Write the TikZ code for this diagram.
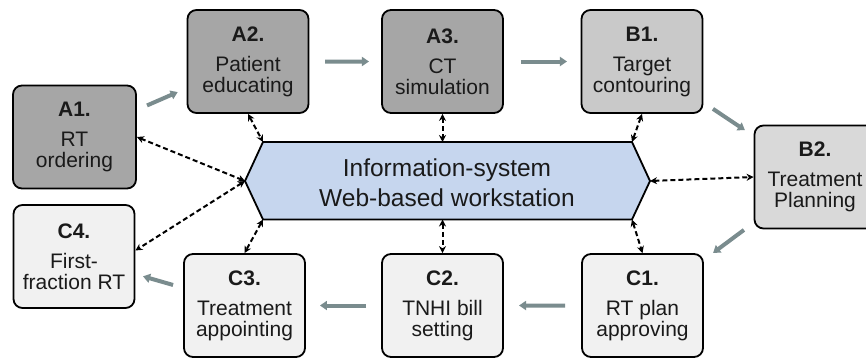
\documentclass[tikz,border=0pt]{standalone}
\usepackage{fontspec}
\setmainfont{Liberation Sans}
\usetikzlibrary{arrows.meta,calc}
\definecolor{agray}{HTML}{A6A6A6}
\definecolor{bgray}{HTML}{C9C9C9}
\definecolor{b2gray}{HTML}{D9D9D9}
\definecolor{cgray}{HTML}{F1F1F1}
\definecolor{hexblue}{HTML}{C6D6EE}
\definecolor{arrgray}{HTML}{7A8C8E}
\definecolor{txt}{HTML}{1A1A1A}
\begin{document}
\begin{tikzpicture}[x=1pt,y=-1pt,
  box/.style={draw=black, line width=1.8pt, rounded corners=9pt, inner sep=0pt,
    minimum width=121pt, minimum height=103pt, align=center, text=txt,
    font=\fontsize{21}{21}\selectfont},
  abox/.style={box, fill=agray},
  bbox/.style={box, fill=bgray},
  b2box/.style={box, fill=b2gray},
  cbox/.style={box, fill=cgray},
  flow/.style={draw=arrgray, line width=4pt, -{Triangle[length=7pt,width=9pt]}},
  link/.style={draw=black, line width=2pt, dash pattern=on 5pt off 3pt,
    {Stealth[length=7pt,width=7pt]}-{Stealth[length=7pt,width=7pt]}}
]
\useasboundingbox (0,0) rectangle (866,359);
\fill[white] (0,0) rectangle (866,359);

% boxes
\node[abox, minimum width=123pt] (A1) at (74.5,137) {\bfseries A1.\\[9pt]RT\\ordering};
\node[abox] (A2) at (248,61.5) {\bfseries A2.\\[9pt]Patient\\educating};
\node[abox] (A3) at (442.5,61.5) {\bfseries A3.\\[9pt]CT\\simulation};
\node[bbox] (B1) at (642,61.5) {\bfseries B1.\\[9pt]Target\\contouring};
\node[b2box] (B2) at (815,177) {\bfseries B2.\\[9pt]Treatment\\Planning};
\node[cbox] (C1) at (642.5,305.5) {\bfseries C1.\\[9pt]RT plan\\approving};
\node[cbox] (C2) at (442.5,305.5) {\bfseries C2.\\[9pt]TNHI bill\\setting};
\node[cbox] (C3) at (244.5,305.5) {\bfseries C3.\\[9pt]Treatment\\appointing};
\node[cbox] (C4) at (74,256.5) {\bfseries C4.\\[9pt]First-\\fraction RT};

% hexagon
\coordinate (htl) at (263,142);
\coordinate (htr) at (632,142);
\coordinate (hr) at (650,181);
\coordinate (hbr) at (632,219.5);
\coordinate (hbl) at (263,219.5);
\coordinate (hl) at (245,181);
\draw[fill=hexblue, line width=1.8pt, line join=miter] (htl) -- (htr) -- (hr) -- (hbr) -- (hbl) -- (hl) -- cycle;
\node[align=center, text=txt, font=\fontsize{24.5}{29.5}\selectfont] (hex) at (447,182.5)
  {Information-system\\Web-based workstation};

% process flow arrows
\draw[flow] ($(A1)!0.418!(A2)$) -- ($(A1)!0.595!(A2)$);
\draw[flow] ($(A2)!0.396!(A3)$) -- ($(A2)!0.622!(A3)$);
\draw[flow] ($(A3)!0.393!(B1)$) -- ($(A3)!0.624!(B1)$);
\draw[flow] ($(B1)!0.41!(B2)$) -- ($(B1)!0.595!(B2)$);
\draw[flow] ($(B2)!0.412!(C1)$) -- ($(B2)!0.591!(C1)$);
\draw[flow] ($(C1)!0.3875!(C2)$) -- ($(C1)!0.6175!(C2)$);
\draw[flow] ($(C2)!0.386!(C3)$) -- ($(C2)!0.619!(C3)$);
\draw[flow] ($(C3)!0.419!(C4)$) -- ($(C3)!0.595!(C4)$);

% information links
\draw[link] (A1.east) -- (hl);
\draw[link] (A2.south) -- (htl);
\draw[link] (A3.south) -- (A3.south |- htl);
\draw[link] (B1.south) -- (htr);
\draw[link] (hr) -- (B2.west);
\draw[link] (hbr) -- (C1.north);
\draw[link] (C2.north |- hbl) -- (C2.north);
\draw[link] (hbl) -- (C3.north);
\draw[link] (hl) -- ([yshift=6pt]C4.east);
\end{tikzpicture}
\end{document}
